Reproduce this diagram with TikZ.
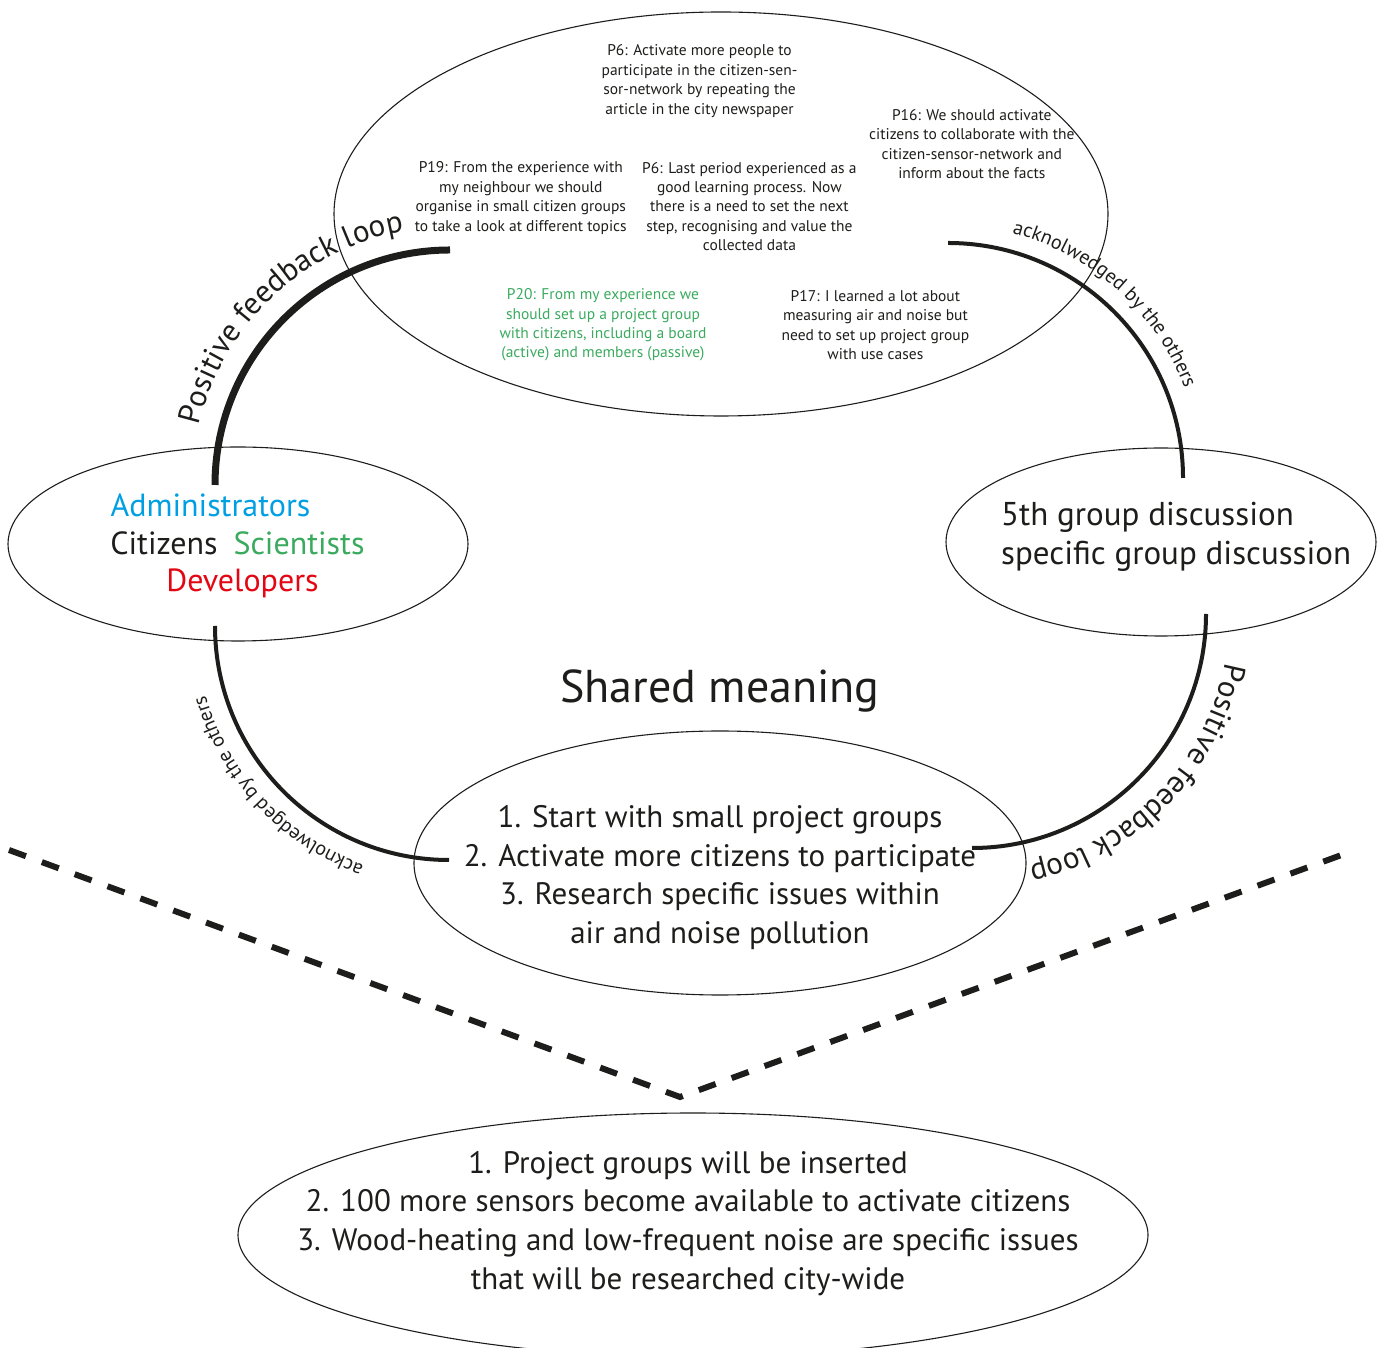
\documentclass[tikz,border=0pt]{standalone}
\usepackage{fontspec}
\setmainfont{PT Sans}
\usetikzlibrary{shapes.geometric,decorations.text}

\definecolor{ink}{HTML}{1D1D1B}
\definecolor{admincyan}{HTML}{009FE3}
\definecolor{scigreen}{HTML}{3AAA5E}
\definecolor{devred}{HTML}{E30613}
\newcommand\fsz[2]{\fontsize{#1}{#2}\selectfont}

\begin{document}
\begin{tikzpicture}[x=1pt,y=1pt,
  bubble/.style={draw=ink, ellipse, line width=1.1pt, inner sep=0pt},
  note/.style={align=center, text=ink, font=\fsz{15.5}{19.4}, inner sep=0pt},
  bigtext/.style={align=center, text=ink, font=\fsz{31}{38.7}, inner sep=0pt},
  actor/.style={anchor=base, inner sep=0pt, font=\fsz{32}{32}},
  loopline/.style={draw=ink, line width=4pt},
  arclabel/.style={decorate, decoration={text along path, text align=center}},
  divider/.style={draw=ink, line width=6pt, dash pattern=on 18pt off 17pt},
]
\useasboundingbox (0,0) rectangle (1386,1347);

% ---- ellipses ----
\node[bubble, minimum width=774pt, minimum height=404pt] (ideas) at (721,1133) {};
\node[bubble, minimum width=460pt, minimum height=194pt] (actors) at (238,803) {};
\node[bubble, minimum width=430pt, minimum height=188pt] (session) at (1161,805) {};
\node[bubble, minimum width=612pt, minimum height=264pt] (meaning) at (720,484) {};
\node[bubble, minimum width=910pt, minimum height=244pt] (outcome) at (693,112) {};

% ---- statements in the top ellipse ----
\node[note] (p6a) at (699.5,1266) {P6: Activate more people to\\participate in the citizen-sen-\\sor-network by repeating the\\article in the city newspaper};
\node[note] (p16) at (971.8,1203) {P16: We should activate\\citizens to collaborate with the\\citizen-sensor-network and\\inform about the facts};
\node[note] (p19) at (520.8,1149) {P19: From the experience with\\my neighbour we should\\organise in small citizen groups\\to take a look at different topics};
\node[note] (p6b) at (749.4,1140.6) {P6: Last period experienced as a\\good learning process. Now\\there is a need to set the next\\step, recognising and value the\\collected data};
\node[note, text=scigreen] (p20) at (603,1022) {P20: From my experience we\\should set up a project group\\with citizens, including a board\\(active) and members (passive)};
\node[note] (p17) at (875.4,1022) {P17: I learned a lot about\\measuring air and noise but\\need to set up project group\\with use cases};

% ---- actors ----
\node[actor, text=admincyan] (admin) at (210.5,830) {Administrators};
\node[actor, text=ink] (citizens) at (164,792) {Citizens};
\node[actor, text=scigreen] (scientists) at (299,792) {Scientists};
\node[actor, text=devred] (developers) at (242.5,755) {Developers};

% ---- group discussion ----
\node[actor, anchor=base west, font=\fsz{33}{33}, text=ink] (fifth) at (1001,821) {5th group discussion};
\node[actor, anchor=base west, font=\fsz{33}{33}, text=ink] (specific) at (1001,782) {specific group discussion};

% ---- shared meaning ----
\node[anchor=base, inner sep=0pt, text=ink, font=\fsz{46}{46}] (title) at (720,644) {Shared meaning};
\node[bigtext] (steps) at (720,469.4) {1. Start with small project groups\\2. Activate more citizens to participate\\3. Research specific issues within\\air and noise pollution};

% ---- results ----
\node[bigtext] (results) at (688,123.7) {1. Project groups will be inserted\\2. 100 more sensors become available to activate citizens\\3. Wood-heating and low-frequent noise are specific issues\\that will be researched city-wide};

% ---- loop connectors ----
\coordinate (tlc) at (450,862);
\coordinate (trc) at (948,869);
\coordinate (blc) at (450,721);
\coordinate (brc) at (972,733);

\coordinate (ideasL) at (450,1097);
\coordinate (actorsT) at (215,862);
\coordinate (ideasR) at (948,1104);
\coordinate (sessionT) at (1183,869);
\coordinate (actorsB) at (215,721);
\coordinate (meaningL) at (450,488);
\coordinate (sessionB) at (1206,733);
\coordinate (meaningR) at (972,499);

\draw[loopline, line width=7pt] (ideasL) arc[start angle=90, end angle=180, radius=235];
\draw[loopline] (ideasR) arc[start angle=90, end angle=0, radius=235];
\draw[loopline] (actorsB) arc[start angle=180, end angle=270, radius=234];
\draw[loopline] (sessionB) arc[start angle=0, end angle=-90, radius=234];

% ---- labels along the loops ----
\path[arclabel, decoration={text={|\fsz{31}{31}\color{ink}|Positive feedback loop}}]
  (tlc) ++(175:258) arc[start angle=175, end angle=92, radius=258];
\path[arclabel, decoration={text={|\fsz{20}{20}\color{ink}|acknolwedged by the others}}]
  (trc) ++(82:253) arc[start angle=82, end angle=14, radius=253];
\path[arclabel, decoration={text={|\fsz{20}{20}\color{ink}|acknolwedged by the others}}]
  (blc) ++(-102:254) arc[start angle=-102, end angle=-172, radius=254];
\path[arclabel, decoration={text={|\fsz{31}{31}\color{ink}|Positive feedback loop}}]
  (brc) ++(-3:258) arc[start angle=-3, end angle=-85, radius=258];

% ---- dashed divider ----
\coordinate (divL) at (9,497);
\coordinate (divV) at (680,250);
\coordinate (divR) at (1347,494);
\draw[divider] (divL) -- (divV) -- (divR);
\end{tikzpicture}
\end{document}
